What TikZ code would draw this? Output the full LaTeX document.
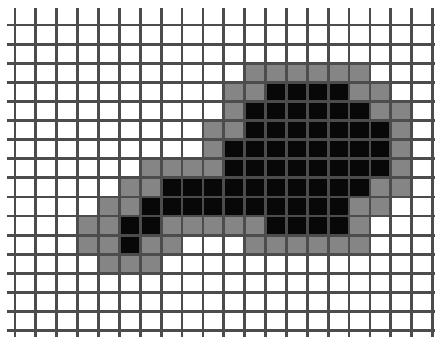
\documentclass[tikz,border=0pt]{standalone}
\begin{document}
\begin{tikzpicture}[x=10.44pt, y=-9.55pt,
  gridline/.style={draw=black!70,line width=1.4pt},
  blackcell/.style={fill=black!97},
  graycell/.style={fill=black!48}]
  \useasboundingbox[fill=white] (-0.718,-1.309) rectangle (20.115,16.335);
  % object pixels
  \foreach \r/\cs in {3/{12,...,15}, 4/{11,...,16}, 5/{11,...,17}, 6/{10,...,17}, 7/{10,...,17},
    8/{7,...,16}, 9/{6,...,15}, 10/{5,6,12,13,14,15}, 11/{5}}
    \foreach \c in \cs {\fill[blackcell] (\c,\r) rectangle ++(1,1);}
  % border pixels
  \foreach \r/\cs in {2/{11,...,16}, 3/{10,11,16,17}, 4/{10,17,18}, 5/{9,10,18}, 6/{9,18},
    7/{6,7,8,9,18}, 8/{5,6,17,18}, 9/{4,5,16,17}, 10/{3,4,7,8,9,10,11,16},
    11/{3,4,6,7,11,12,13,14,15,16}, 12/{4,5,6}}
    \foreach \c in \cs {\fill[graycell] (\c,\r) rectangle ++(1,1);}
  % grid
  \foreach \k in {0,...,20} \draw[gridline] (\k,-0.89) -- (\k,16.335);
  \foreach \j in {0,...,16} \draw[gridline] (-0.383,\j) -- (20.115,\j);
\end{tikzpicture}
\end{document}
